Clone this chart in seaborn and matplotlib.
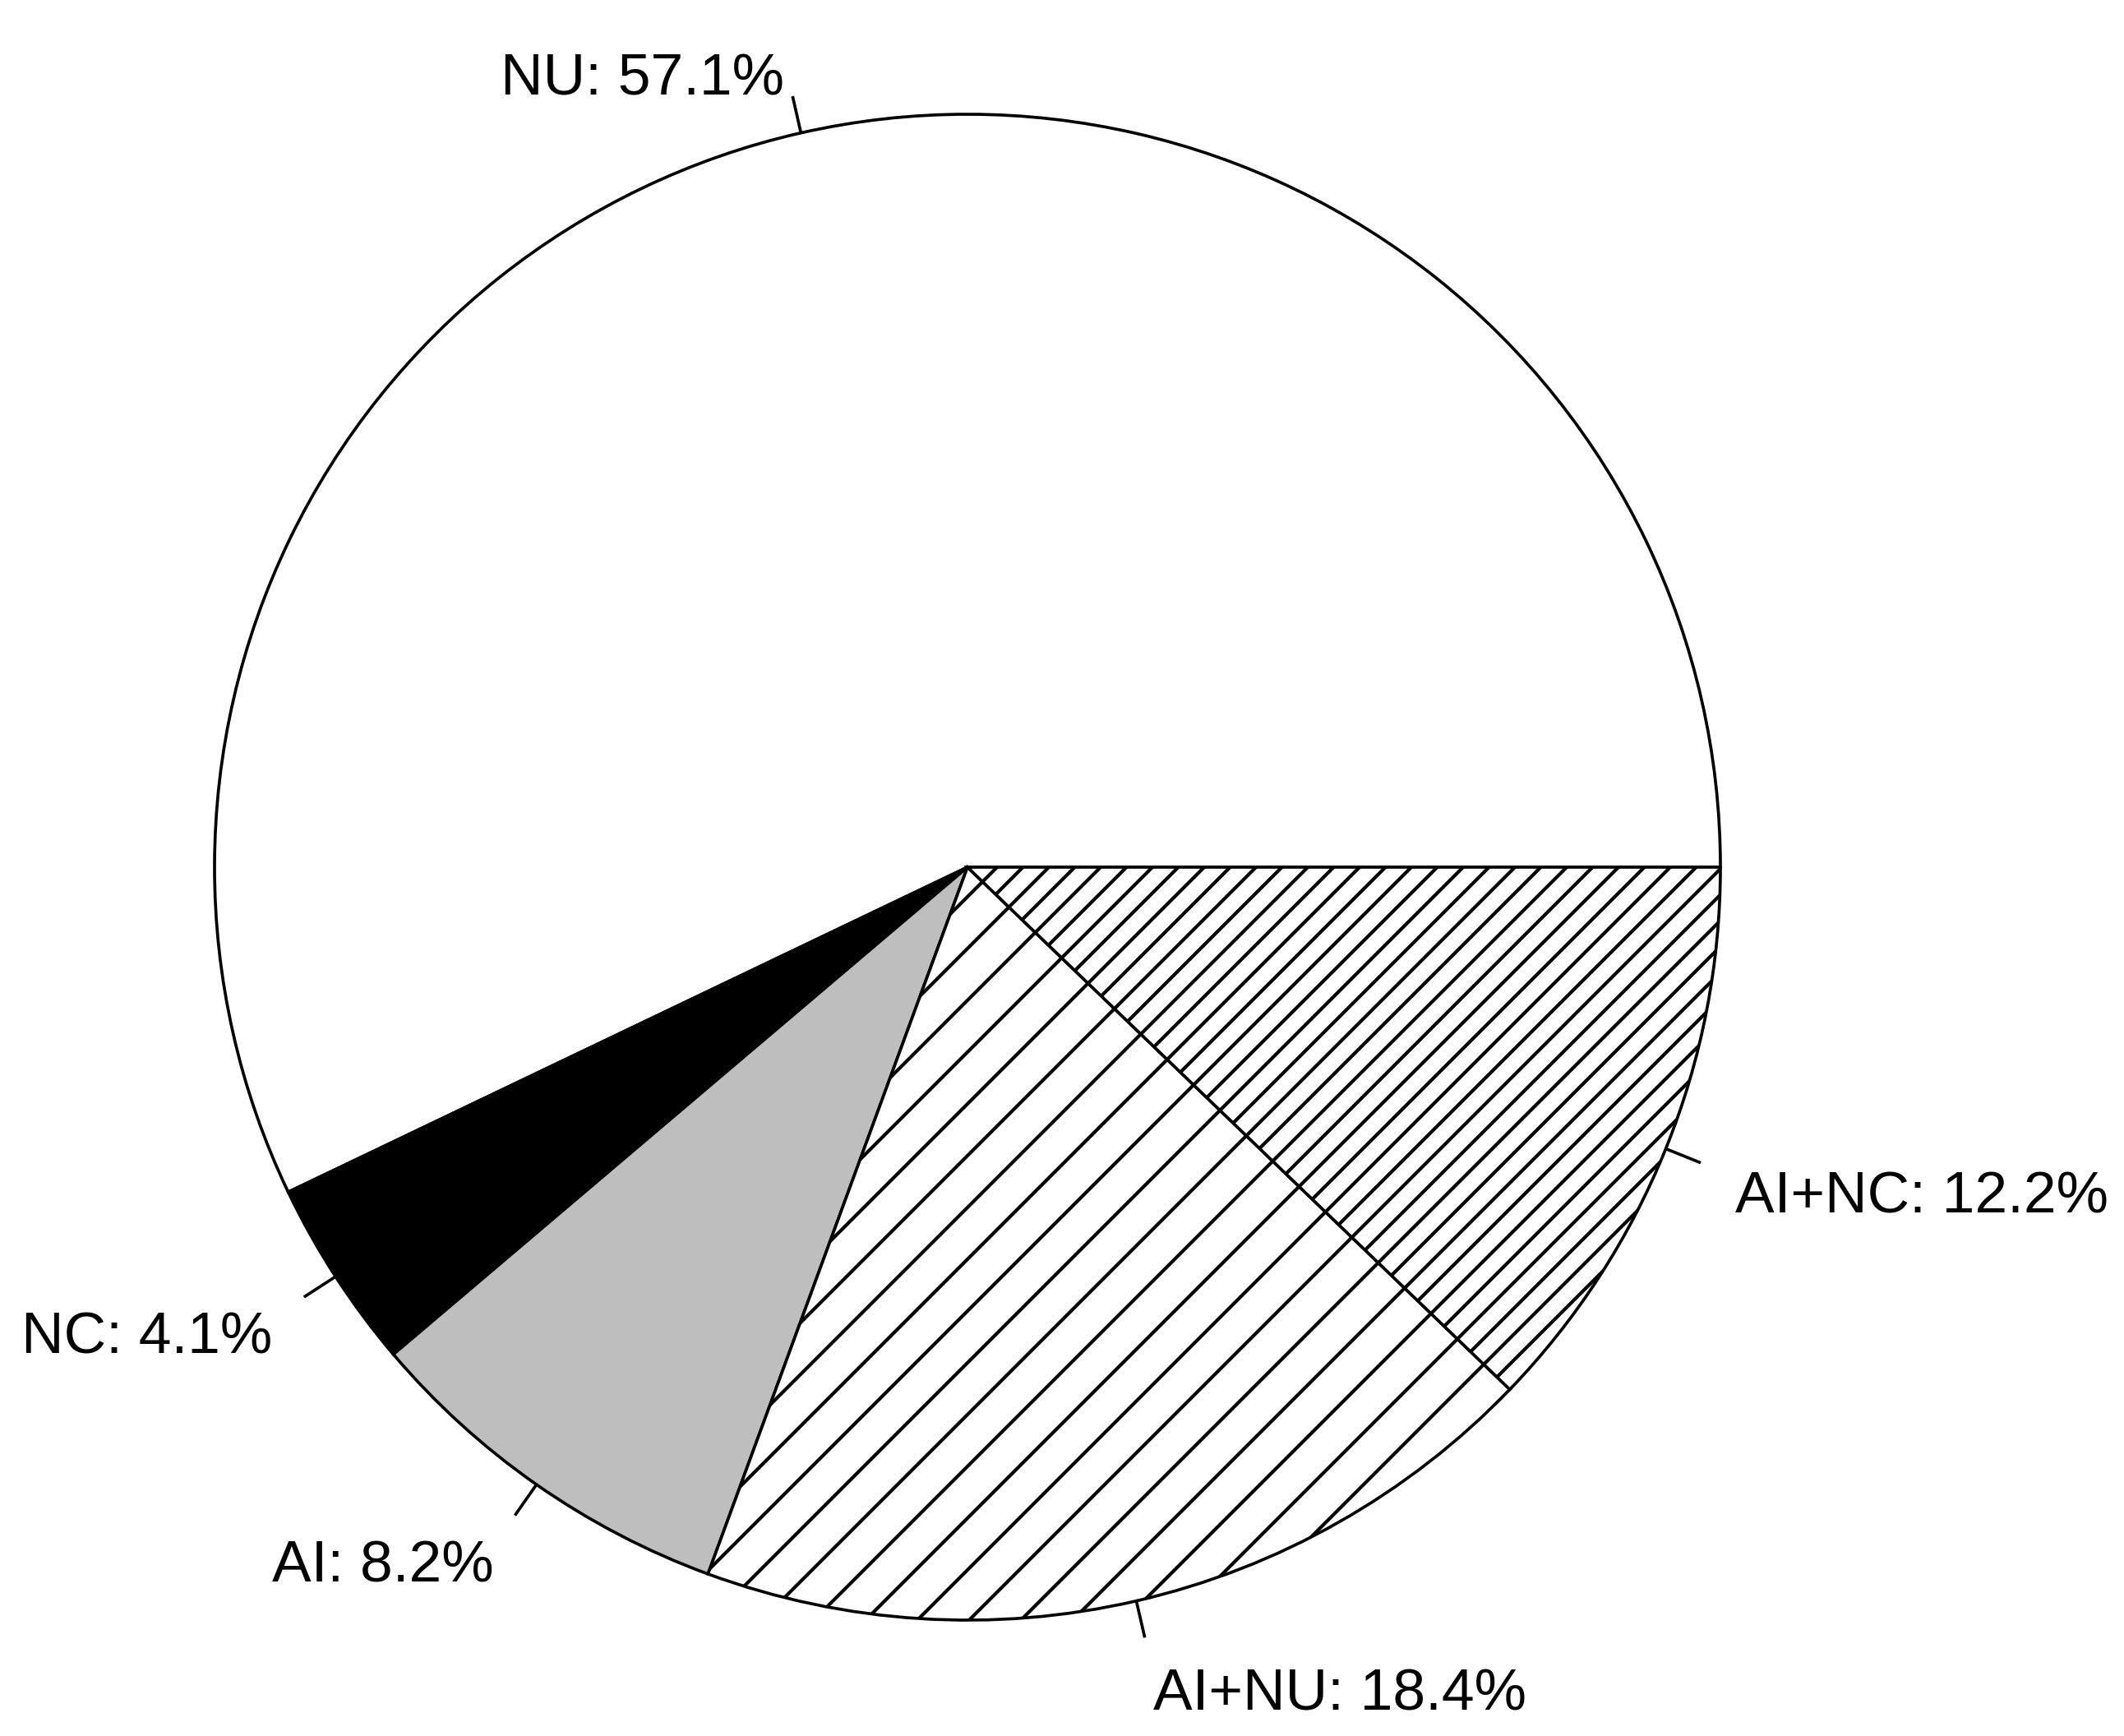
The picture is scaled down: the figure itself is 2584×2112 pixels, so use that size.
import matplotlib
matplotlib.use("Agg")
import matplotlib.pyplot as plt
import numpy as np
import seaborn as sns

sns.set_theme(style="white")
plt.rcParams["font.family"] = ["Liberation Sans", "DejaVu Sans"]
plt.rcParams["hatch.linewidth"] = 0.8

# data, in drawing order (counter-clockwise from 3 o'clock)
groups = ["NU", "NC", "AI", "AI+NU", "AI+NC"]
shares = [57.1, 4.1, 8.2, 18.4, 12.2]
fills = ["white", "black", "#BEBEBE", "white", "white"]
hatches = [None, None, None, "//", "////"]

DPI = 378
W, H = 2584, 2112
R_PX = 916
CX, CY = 1177, 1057  # pie centre in pixels from the lower left

fig = plt.figure(figsize=(W / DPI, H / DPI), dpi=DPI)
ax = fig.add_axes([0, 0, 1, 1])

wedges, _ = ax.pie(shares, colors=fills, startangle=0, counterclock=True,
                   radius=1.0, wedgeprops=dict(edgecolor="black", linewidth=0.7))
for w, h in zip(wedges, hatches):
    if h:
        w.set_hatch(h)

# R-style labels: short tick from r=1 to r=1.05, text at r=1.1
bounds = np.concatenate([[0], np.cumsum(shares)]) / sum(shares) * 360
for g, s, a0, a1 in zip(groups, shares, bounds[:-1], bounds[1:]):
    t = np.deg2rad((a0 + a1) / 2)
    c, sn = np.cos(t), np.sin(t)
    ax.plot([c, 1.05 * c], [sn, 1.05 * sn], color="black", lw=0.7,
            solid_capstyle="butt")
    ax.annotate(f"{g}: {s}%", (1.1 * c, 1.1 * sn), xytext=(0, -4.8),
                textcoords="offset points", fontsize=13.6,
                ha="left" if c > 0 else "right", va="center", color="black")

ax.set_xlim(-CX / R_PX, (W - CX) / R_PX)
ax.set_ylim(-CY / R_PX, (H - CY) / R_PX)
ax.set_aspect("auto")
ax.axis("off")

fig.savefig("out.png", dpi=DPI, facecolor="white")
